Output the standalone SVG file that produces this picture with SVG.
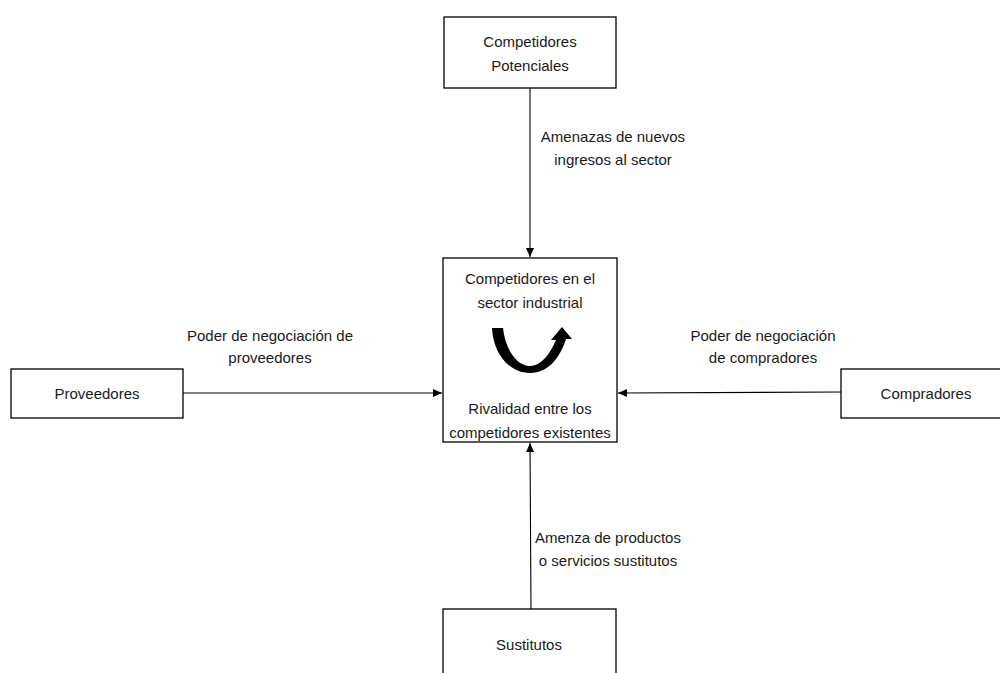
<svg xmlns="http://www.w3.org/2000/svg" width="1000" height="673" viewBox="0 0 1000 673">
<defs>
<style>
.box{fill:#fff;stroke:#000;stroke-width:1.3}
.t{font-family:"Liberation Sans",Arial,sans-serif;font-size:15px;fill:#1a1a1a;text-anchor:middle}
.c{stroke:#000;stroke-width:1.1;fill:none}
</style>
<marker id="ah" markerWidth="10" markerHeight="10" refX="9" refY="5" orient="auto" markerUnits="userSpaceOnUse">
<path d="M0,1 L9,5 L0,9 Z" fill="#000"/>
</marker>
</defs>
<rect width="1000" height="673" fill="#fff"/>
<g id="connectors">
<line class="c" x1="530" y1="88" x2="530" y2="257" marker-end="url(#ah)"/>
<line class="c" x1="183" y1="393" x2="442" y2="393" marker-end="url(#ah)"/>
<line class="c" x1="841" y1="392" x2="618" y2="393" marker-end="url(#ah)"/>
<line class="c" x1="531" y1="609" x2="530" y2="443" marker-end="url(#ah)"/>
<text class="t" x="613" y="142">Amenazas de nuevos</text>
<text class="t" x="613" y="165">ingresos al sector</text>
<text class="t" x="270" y="341">Poder de negociación de</text>
<text class="t" x="270" y="363">proveedores</text>
<text class="t" x="763" y="341">Poder de negociación</text>
<text class="t" x="763" y="363">de compradores</text>
<text class="t" x="608" y="543">Amenza de productos</text>
<text class="t" x="608" y="566">o servicios sustitutos</text>
</g>
<g id="potenciales">
<rect class="box" x="444" y="17" width="172" height="71"/>
<text class="t" x="530" y="47">Competidores</text>
<text class="t" x="530" y="71">Potenciales</text>
</g>
<g id="sector">
<rect class="box" x="443" y="258" width="174" height="184"/>
<text class="t" x="530" y="284">Competidores en el</text>
<text class="t" x="530" y="308">sector industrial</text>
<path d="M492,328 L503,328 C505,348 516,366 530,366 C541,366 550,354 556,340 L551,340 L562,327 L572,339 L566,339 C560,358 548,373 530,373 C508,373 493,352 492,328 Z" fill="#000"/>
<text class="t" x="530" y="414">Rivalidad entre los</text>
<text class="t" x="530" y="438">competidores existentes</text>
</g>
<g id="proveedores">
<rect class="box" x="11" y="369" width="172" height="49"/>
<text class="t" x="97" y="399">Proveedores</text>
</g>
<g id="compradores">
<rect class="box" x="841" y="369" width="175" height="49"/>
<text class="t" x="926" y="399">Compradores</text>
</g>
<g id="sustitutos">
<rect class="box" x="443" y="609" width="173" height="80"/>
<text class="t" x="529" y="650">Sustitutos</text>
</g>
</svg>
